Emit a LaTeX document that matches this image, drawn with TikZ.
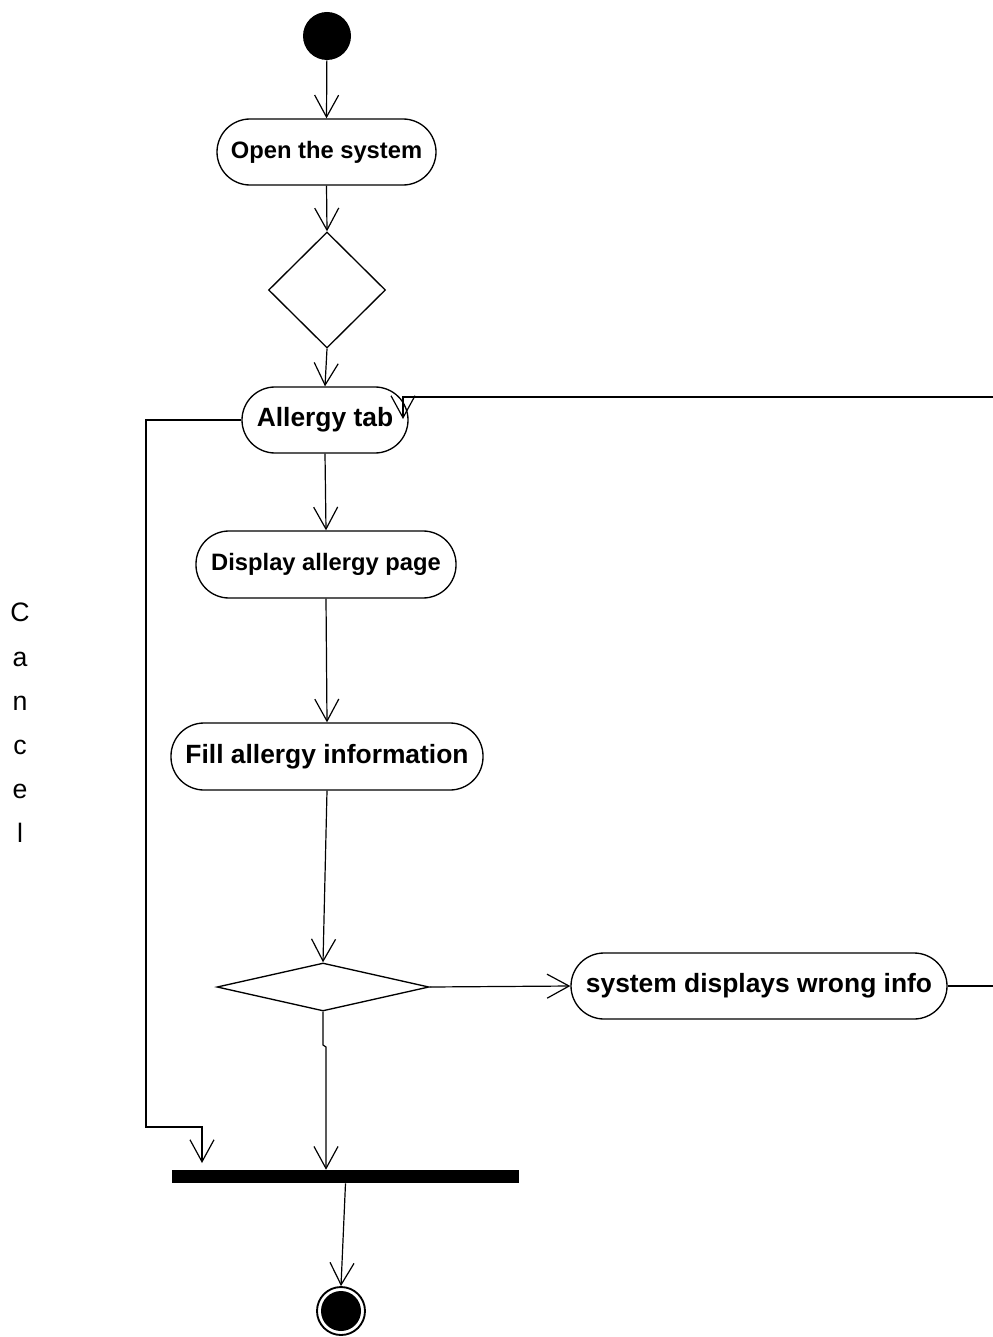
\documentclass[tikz,border=0pt]{standalone}
\usepackage{fontspec}
\setmainfont{Liberation Sans}
\usetikzlibrary{arrows.meta,shapes.geometric}
\begin{document}
\begin{tikzpicture}[x=0.75pt,y=-0.75pt,
  act/.style={draw, line width=1pt, rounded corners=24.75pt, minimum height=49.5pt, inner sep=0pt},
  smallfont/.style={font=\bfseries\fontsize{17.8}{20}\selectfont},
  bigfont/.style={font=\bfseries\fontsize{19.8}{22}\selectfont},
  decision/.style={draw, diamond, line width=1pt, inner sep=0pt},
  flow/.style={line width=0.9pt, -{Straight Barb[length=16.5pt,width=18pt]}},
  plain/.style={line width=0.9pt}]
\path[use as bounding box, fill=white] (0,0) rectangle (992,1337);

% nodes
\node[circle, fill=black, minimum size=36pt, inner sep=0pt] (start) at (327,36) {};
\node[act, smallfont, minimum width=164.25pt] (open) at (326.5,152) {Open the system};
\node[decision, minimum width=87.75pt, minimum height=87pt] (d1) at (327,290) {};
\node[act, bigfont, minimum width=124.5pt] (allergy) at (325,420) {Allergy tab};
\node[act, smallfont, minimum width=195pt, minimum height=50.25pt] (display) at (326,564.5) {Display allergy page};
\node[act, bigfont, minimum width=234pt, minimum height=50.25pt] (fill) at (327,756.5) {Fill allergy information};
\node[decision, minimum width=159pt, minimum height=36pt] (d2) at (323,987) {};
\node[act, bigfont, minimum width=282pt] (wrong) at (759,986) {system displays wrong info};
\node[fill=black, minimum width=260.25pt, minimum height=9.75pt, inner sep=0pt] (join) at (345.5,1176.5) {};
\node[circle, draw, line width=1.4pt, minimum size=36pt, inner sep=0pt,
      path picture={\fill[black] (path picture bounding box.center) circle (15pt);}] (end) at (341,1311) {};
\node[font=\fontsize{20}{33.15}\selectfont, align=center, inner sep=0pt] (cancel) at (20,723) {C\\a\\n\\c\\e\\l};

% helper coordinates
\coordinate (c2) at (146,1127);
\coordinate (c3) at (202,1127);
\coordinate (c4) at (202,1163);
\coordinate (jg1) at (323,1045);
\coordinate (jg2) at (326,1047);
\coordinate (r1) at (1000,986);
\coordinate (r2) at (1000,397);
\coordinate (r3) at (403,397);
\coordinate (r4) at (403,419);

% connectors
\draw[flow] (start) -- (open.north);
\draw[flow] (open.south) -- (d1.north);
\draw[flow] (d1.south) -- (allergy.north);
\draw[flow] (allergy.south) -- (display.north);
\draw[flow] (display.south) -- (fill.north);
\draw[flow] (fill.south) -- (d2.north);
\draw[flow] (d2.south) -- (jg1) -- (jg2) -- (jg2 |- join.north);
\draw[flow] (join.south) -- (end.north);
\draw[flow] (allergy.west) -- (allergy.west -| c2) -- (c2) -- (c3) -- (c4);
\draw[flow] (d2.east) -- (wrong.west);
\draw[flow] (wrong.east) -- (r1) -- (r2) -- (r3) -- (r4);
\end{tikzpicture}
\end{document}
